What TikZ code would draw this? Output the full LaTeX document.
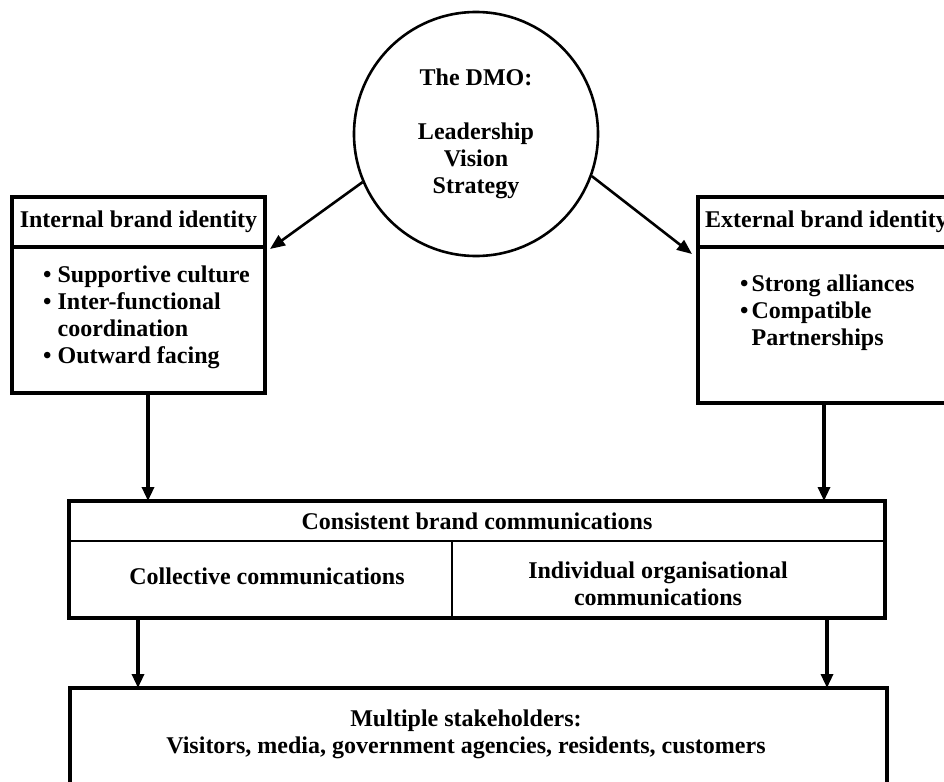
\documentclass[tikz,border=0pt]{standalone}
\usepackage{fontspec}
\setmainfont{Liberation Serif}
\usetikzlibrary{arrows.meta}
\begin{document}
\begin{tikzpicture}[x=1pt,y=-1pt,
  txt/.style={font=\bfseries\fontsize{24}{27}\selectfont, text=black},
  box/.style={draw, line width=4pt, rectangle, inner sep=0pt, outer sep=0pt},
  thinrule/.style={line width=2.2pt},
  diagarrow/.style={line width=2.6pt, -{Triangle[length=15pt,width=12pt]}},
  downarrow/.style={line width=3.2pt, -{Triangle[length=14pt,width=12pt]}},
]
\useasboundingbox (0,0) rectangle (944,781);
\clip (0,0) rectangle (944,781);

% central circle
\node[circle, draw, line width=2.6pt, minimum size=244pt, inner sep=0pt, txt, align=center]
  (dmo) at (476,134) {The DMO:\\[27pt]Leadership\\Vision\\Strategy};

% internal brand identity
\node[box, minimum width=253pt, minimum height=50pt, txt] (lhead) at (138.5,222) {Internal brand identity};
\node[box, minimum width=253pt, minimum height=146pt] (lbody) at (138.5,320) {};
\node[txt, align=left, anchor=west, inner sep=0pt] (ltext) at (43,317)
  {\textbullet\ Supportive culture\\\textbullet\ Inter-functional\\\phantom{\textbullet\ }coordination\\\textbullet\ Outward facing};

% external brand identity
\node[box, minimum width=252pt, minimum height=50pt] (rhead) at (824,222) {};
\node[txt, anchor=west, inner sep=0pt] (rtitle) at (705,222) {External brand identity};
\node[box, minimum width=252pt, minimum height=156pt] (rbody) at (824,325) {};
\node[txt, align=left, anchor=west, inner sep=0pt] (rtext) at (740,313)
  {\textbullet\kern3pt Strong alliances\\\textbullet\kern3pt Compatible\\\phantom{\textbullet}\kern3pt Partnerships};

% consistent brand communications
\node[box, line width=3.6pt, minimum width=816pt, minimum height=117pt] (mid) at (477,559.5) {};
\coordinate (mdiv) at (452,541);
\draw[thinrule] (mid.west |- mdiv) -- (mid.east |- mdiv);
\draw[thinrule] (mdiv) -- (mdiv |- mid.south);
\node[txt] (mtitle) at (477,521) {Consistent brand communications};
\node[txt] (mcoll) at (267,576) {Collective communications};
\node[txt, align=center] (mind) at (658,584) {Individual organisational\\communications};

% stakeholders
\node[box, minimum width=817pt, minimum height=120pt] (bot) at (478.5,748) {};
\node[txt, align=center] (btext) at (466,734)
  {Multiple stakeholders:\\Visitors, media, government agencies, residents, customers};

% connectors
\draw[diagarrow] (dmo.203) -- ([xshift=5pt,yshift=-2pt]lhead.south east);
\draw[diagarrow] (dmo.340) -- ([xshift=-6pt,yshift=-7pt]rbody.north west);

\coordinate (la) at ([xshift=9.5pt]lbody.south);
\coordinate (ra) at (rbody.south);
\draw[downarrow] (la) -- (la |- mid.north);
\draw[downarrow] (ra) -- (ra |- mid.north);

\coordinate (ma) at ([xshift=69pt]mid.south west);
\coordinate (mb) at ([xshift=-58pt]mid.south east);
\draw[downarrow] (ma) -- (ma |- bot.north);
\draw[downarrow] (mb) -- (mb |- bot.north);
\end{tikzpicture}
\end{document}
